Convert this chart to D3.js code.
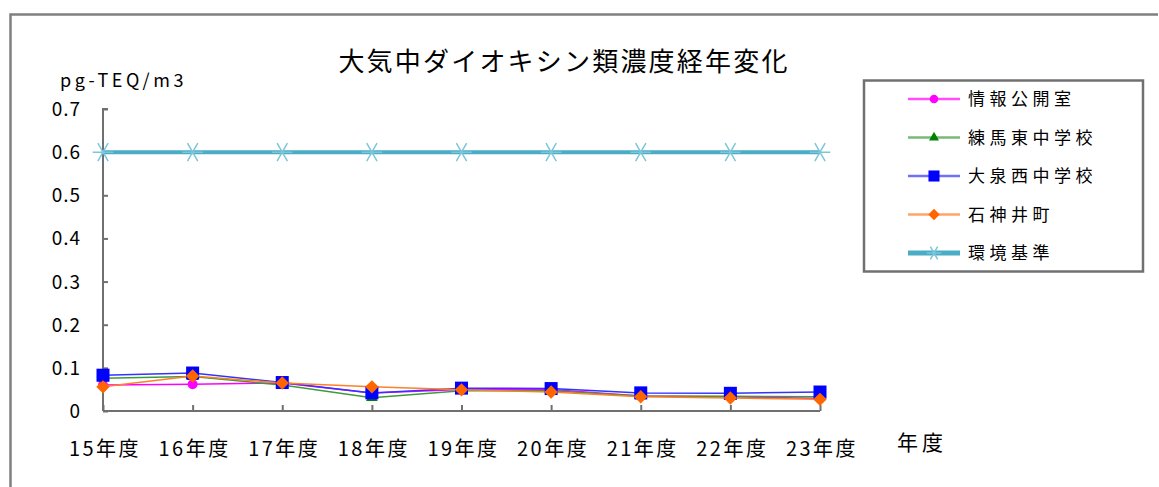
<!DOCTYPE html>
<html>
<head>
<meta charset="utf-8">
<script src="https://cdn.jsdelivr.net/npm/d3@7"></script>
<style>
    body { margin: 0; background: #fff; }
    text { font-family: "Noto Sans CJK JP", "Noto Sans", sans-serif; fill: #000; }
</style>
</head>
<body>
<div id="chart"></div>
<script>
// data
let years = ['15年度', '16年度', '17年度', '18年度', '19年度', '20年度', '21年度', '22年度', '23年度'];
let johokokai = [0.060, 0.062, 0.065, 0.042, 0.050, 0.050, 0.035, 0.033, 0.029];
let nerimaHigashi = [0.076, 0.080, 0.060, 0.031, 0.047, 0.047, 0.035, 0.034, 0.033];
let oizumiNishi = [0.083, 0.088, 0.066, 0.042, 0.053, 0.052, 0.042, 0.041, 0.044];
let shakujiiMachi = [0.056, 0.081, 0.065, 0.056, 0.049, 0.044, 0.033, 0.030, 0.027];
let kankyoKijun = [0.6, 0.6, 0.6, 0.6, 0.6, 0.6, 0.6, 0.6, 0.6];
let yTicks = [0, 0.1, 0.2, 0.3, 0.4, 0.5, 0.6, 0.7];

let series = [
    { name: '情報公開室', values: johokokai, color: '#ff00ff', marker: 'circle', width: 1.5 },
    { name: '練馬東中学校', values: nerimaHigashi, color: '#008000', line: '#3c9c3c', marker: 'triangle', width: 1.5 },
    { name: '大泉西中学校', values: oizumiNishi, color: '#0000ff', line: '#3333ff', marker: 'square', width: 1.5 },
    { name: '石神井町', values: shakujiiMachi, color: '#ff6600', line: '#ff7f2a', marker: 'diamond', width: 1.5 },
    { name: '環境基準', values: kankyoKijun, color: '#4bacc6', marker: 'asterisk', width: 4 }
];

let width = 1159, height = 487;
let svg = d3.select('#chart').append('svg')
    .attr('width', width)
    .attr('height', height);

// outer frame (right and bottom run off the picture)
svg.append('path')
    .attr('d', 'M10.5,487 L10.5,14.5 L1158,14.5')
    .attr('fill', 'none')
    .attr('stroke', '#808080')
    .attr('stroke-width', 2.5);

let x = d3.scalePoint().domain(years).range([103, 820]);
let y = d3.scaleLinear().domain([0, 0.7]).range([411, 109]);

// title
svg.append('text')
    .attr('x', 564)
    .attr('y', 71)
    .attr('text-anchor', 'middle')
    .attr('font-size', 26)
    .attr('letter-spacing', 2.2)
    .text('大気中ダイオキシン類濃度経年変化');

svg.append('text')
    .attr('x', 60)
    .attr('y', 87)
    .attr('font-size', 18)
    .attr('letter-spacing', 3.6)
    .text('pg-TEQ/m3');

// y axis
let yAxis = d3.axisRight(y).tickValues(yTicks).tickSize(5).tickFormat('');
let gy = svg.append('g').attr('transform', 'translate(103,0)').call(yAxis);
gy.selectAll('path, line').attr('stroke', '#707070').attr('stroke-width', 2);
gy.select('path.domain').attr('d', 'M5,' + y(0.7) + ' H0 V' + y(0));

svg.selectAll('text.ylab')
    .data(yTicks)
    .enter().append('text')
    .attr('class', 'ylab')
    .attr('x', 81)
    .attr('y', (d) => y(d) + 7)
    .attr('text-anchor', 'end')
    .attr('font-size', 19)
    .attr('letter-spacing', 1)
    .text((d) => d === 0 ? '0' : d3.format('.1f')(d));

// x axis
let xAxis = d3.axisTop(x).tickSize(6).tickFormat('').tickSizeOuter(0);
let gx = svg.append('g').attr('transform', 'translate(0,' + y(0) + ')').call(xAxis);
gx.selectAll('path, line').attr('stroke', '#707070').attr('stroke-width', 2);
gx.select('path.domain').attr('d', 'M103,0 H820');

svg.selectAll('text.xlab')
    .data(years)
    .enter().append('text')
    .attr('class', 'xlab')
    .attr('x', (d) => x(d) + 2)
    .attr('y', 456)
    .attr('text-anchor', 'middle')
    .attr('font-size', 20)
    .attr('letter-spacing', 2.5)
    .text((d) => d);

svg.append('text')
    .attr('x', 897)
    .attr('y', 450)
    .attr('font-size', 21)
    .attr('letter-spacing', 4)
    .text('年度');

// markers
function drawMarker(g, s, cx, cy, scale) {
    let k = scale || 1;
    if (s.marker === 'circle') {
        g.append('circle').attr('cx', cx).attr('cy', cy).attr('r', 5 * k).attr('fill', s.color);
    } else if (s.marker === 'triangle') {
        g.append('path')
            .attr('d', d3.symbol().type(d3.symbolTriangle).size(60 * k * k))
            .attr('transform', 'translate(' + cx + ',' + cy + ')')
            .attr('fill', s.color);
    } else if (s.marker === 'square') {
        g.append('rect').attr('x', cx - 6.5 * k).attr('y', cy - 6.5 * k)
            .attr('width', 13 * k).attr('height', 13 * k).attr('fill', s.color);
    } else if (s.marker === 'diamond') {
        g.append('path')
            .attr('d', d3.symbol().type(d3.symbolSquare).size(90 * k * k))
            .attr('transform', 'translate(' + cx + ',' + cy + ') rotate(45)')
            .attr('fill', s.color);
    } else if (s.marker === 'asterisk') {
        g.append('path')
            .attr('d', d3.symbol().type(d3.symbolAsterisk).size(300 * k * k))
            .attr('transform', 'translate(' + cx + ',' + cy + ') rotate(90)')
            .attr('stroke', '#7cc6da')
            .attr('stroke-width', 1.5)
            .attr('fill', 'none');
    }
}

let line = d3.line()
    .x((d, i) => x(years[i]))
    .y((d) => y(d));

let plot = svg.append('g');
series.forEach(function (s) {
    plot.append('path')
        .datum(s.values)
        .attr('d', line)
        .attr('fill', 'none')
        .attr('stroke', s.line || s.color)
        .attr('stroke-width', s.width);
});
// markers on top, orange last like the reference
let order = [4, 0, 1, 2, 3];
order.forEach(function (idx) {
    let s = series[idx];
    let g = plot.append('g');
    s.values.forEach(function (v, i) {
        drawMarker(g, s, x(years[i]), y(v));
    });
});

// legend
let legend = svg.append('g');
legend.append('rect')
    .attr('x', 864)
    .attr('y', 80.5)
    .attr('width', 279)
    .attr('height', 191)
    .attr('fill', '#fff')
    .attr('stroke', '#707070')
    .attr('stroke-width', 2.5);

let legendY = d3.scalePoint().domain(series.map((s) => s.name)).range([99, 253]);
series.forEach(function (s) {
    let ly = legendY(s.name);
    legend.append('line')
        .attr('x1', 908).attr('x2', 960)
        .attr('y1', ly).attr('y2', ly)
        .attr('stroke', s.marker === 'asterisk' ? s.color : (s.line || s.color))
        .attr('stroke-opacity', s.marker === 'asterisk' ? 1 : 0.7)
        .attr('stroke-width', s.marker === 'asterisk' ? 5 : 2.5);
    drawMarker(legend, s, 934, ly, s.marker === 'asterisk' ? 0.7 : 0.85);
    legend.append('text')
        .attr('x', 968)
        .attr('y', ly + 6)
        .attr('font-size', 17)
        .attr('letter-spacing', 4.5)
        .text(s.name);
});
</script>
</body>
</html>
